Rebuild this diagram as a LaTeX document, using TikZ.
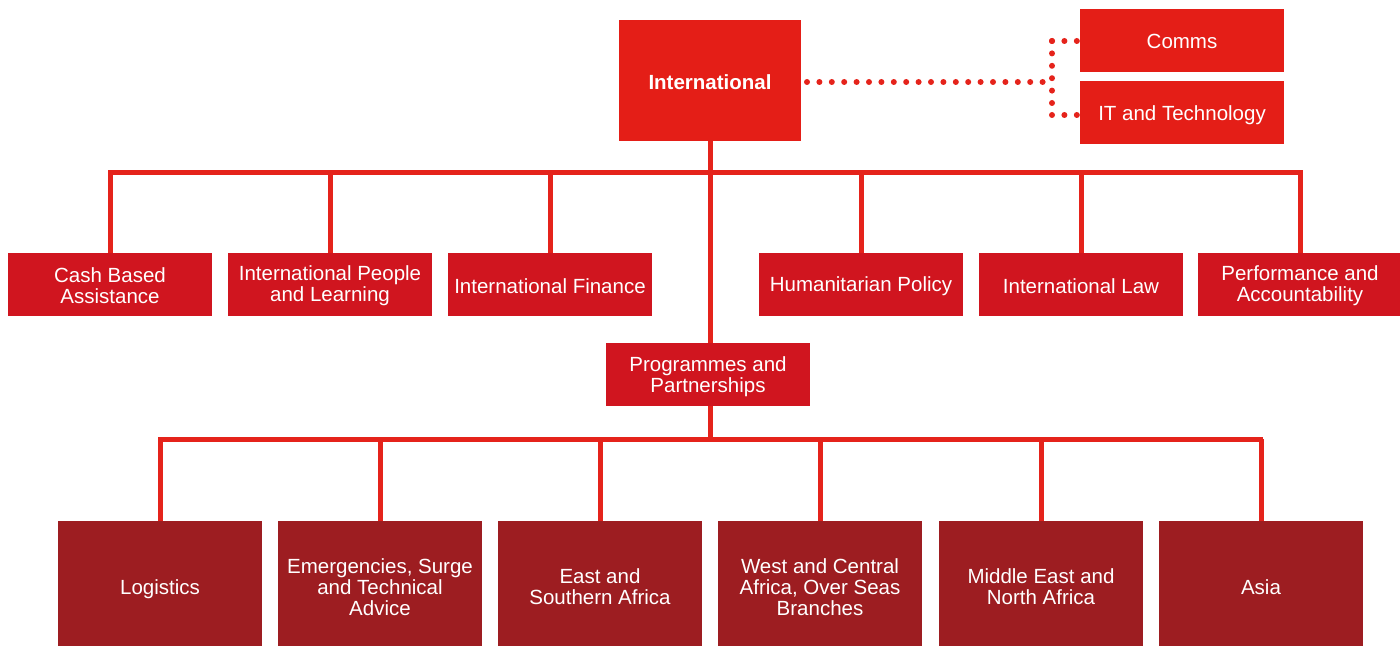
\documentclass[tikz,border=0pt]{standalone}
\usepackage{fontspec}
\setmainfont{Liberation Sans}
\definecolor{topred}{RGB}{228,30,23}
\definecolor{midred}{RGB}{208,21,31}
\definecolor{darkred}{RGB}{157,29,33}
\definecolor{linered}{RGB}{229,35,27}
\begin{document}
\begin{tikzpicture}[x=1pt,y=-1pt,
  box/.style={fill=#1,minimum width=204pt,inner sep=0pt},
  lbl/.style={text=white,inner sep=0pt,align=center,font=\fontsize{20.5}{21}\selectfont},
  topbox/.style={box=topred,minimum height=63pt},
  midbox/.style={box=midred,minimum height=63pt},
  lowbox/.style={box=darkred,minimum height=125pt},
  conn/.style={draw=linered,line width=5pt},
  dots/.style={draw=linered,line width=6pt,line cap=round,dash pattern=on 0pt off 12.4pt}]
\useasboundingbox (0,0) rectangle (1400,647);
\node[box=topred,minimum width=182pt,minimum height=121pt,
  label={[lbl,font=\fontsize{20.5}{21}\selectfont\bfseries,yshift=-2pt,name=intl-t]center:International}] (intl) at (710,80.5) {};
\node[topbox,label={[lbl,yshift=-1pt,name=comms-t]center:Comms}] (comms) at (1182,40.5) {};
\node[topbox,label={[lbl,yshift=-2.5pt,name=it-t]center:IT and Technology}] (it) at (1182,112.5) {};
% row 2
\node[midbox,label={[lbl,yshift=-1.5pt,name=cash-t]center:{Cash Based\\Assistance}}] (cash) at (110,284.5) {};
\node[midbox,label={[lbl,yshift=-1.5pt,name=ipl-t]center:{International People\\and Learning}}] (ipl) at (330,284.5) {};
\node[midbox,label={[lbl,yshift=-1.5pt,name=fin-t]center:International Finance}] (fin) at (550,284.5) {};
\node[midbox,label={[lbl,yshift=-1.5pt,name=hum-t]center:Humanitarian Policy}] (hum) at (861,284.5) {};
\node[midbox,label={[lbl,yshift=-1.5pt,name=law-t]center:International Law}] (law) at (1081,284.5) {};
\node[midbox,label={[lbl,yshift=-1.5pt,name=perf-t]center:{Performance and\\Accountability}}] (perf) at (1300,284.5) {};
\node[midbox,label={[lbl,yshift=-2pt,name=prog-t]center:{Programmes and\\Partnerships}}] (prog) at (708,374.5) {};
% row 3
\node[lowbox,label={[lbl,yshift=-6pt,name=log-t]center:Logistics}] (log) at (160,583.5) {};
\node[lowbox,label={[lbl,yshift=-4pt,name=emg-t]center:{Emergencies, Surge\\and Technical\\Advice}}] (emg) at (380,583.5) {};
\node[lowbox,label={[lbl,yshift=-3.5pt,name=esa-t]center:{East and\\Southern Africa}}] (esa) at (600,583.5) {};
\node[lowbox,label={[lbl,yshift=-4pt,name=wca-t]center:{West and Central\\Africa, Over Seas\\Branches}}] (wca) at (820,583.5) {};
\node[lowbox,label={[lbl,yshift=-3.5pt,name=mena-t]center:{Middle East and\\North Africa}}] (mena) at (1041,583.5) {};
\node[lowbox,label={[lbl,yshift=-4pt,name=asia-t]center:Asia}] (asia) at (1261,583.5) {};
% coordinates
\coordinate (busL) at (110,173);
\coordinate (busR) at (1300,173);
\coordinate (bus2L) at (160,439);
\coordinate (bus2R) at (1260,439);
\coordinate (dj) at (1052,82);
\coordinate (djt) at (1052,41);
\coordinate (djb) at (1052,115);
% connectors
\draw[conn] (intl.south -| 710,0) -- (prog.north -| 710,0);
\draw[conn,line cap=rect] (busL) -- (busR);
\foreach \n in {cash,ipl,fin,hum,law,perf} \draw[conn] (\n.north) -- (\n.north |- busL);
\draw[conn] (prog.south -| 710,0) -- (710,439);
\draw[conn,line cap=rect] (bus2L) -- (bus2R);
\foreach \n in {log,emg,esa,wca,mena,asia} \draw[conn] (\n.north) -- (\n.north |- bus2L);
% dotted
\draw[dots] (807,82) -- (dj);
\draw[dots] (djt) -- (djb);
\draw[dots] (djt) -- (comms.west |- djt);
\draw[dots] (djb) -- (it.west |- djb);
\end{tikzpicture}
\end{document}
